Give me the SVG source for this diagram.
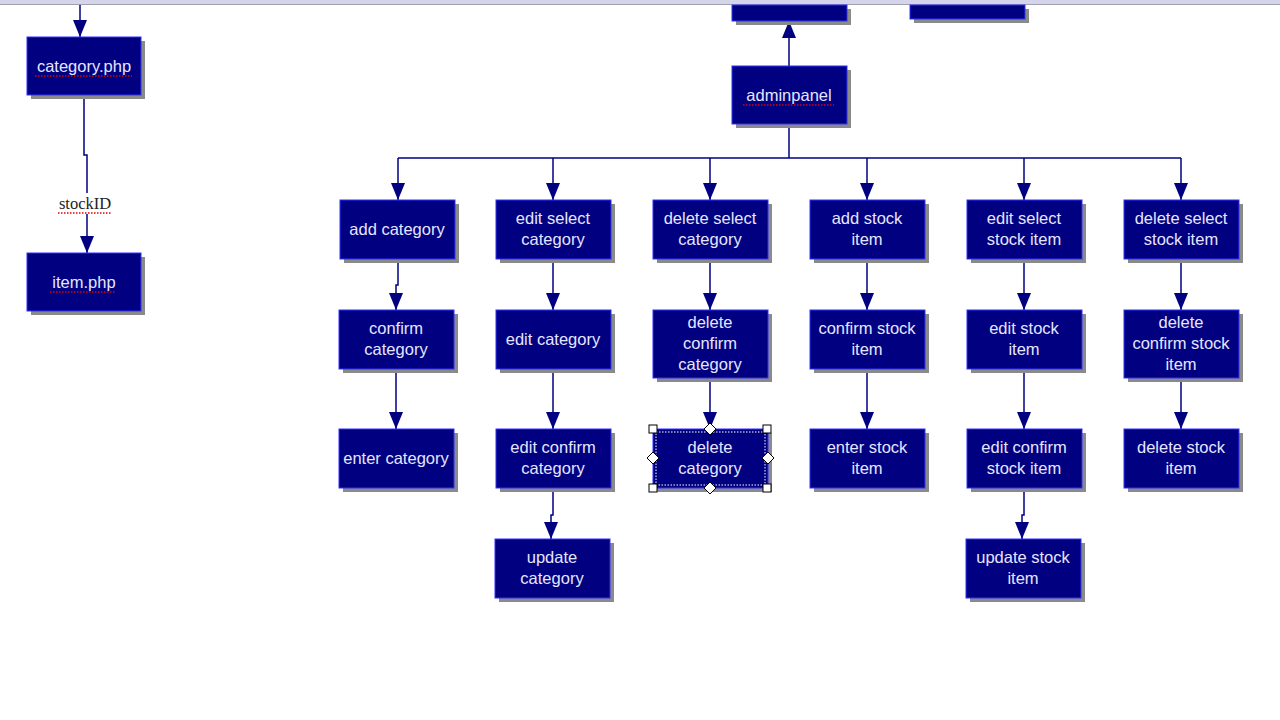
<svg xmlns="http://www.w3.org/2000/svg" width="1280" height="720" viewBox="0 0 1280 720">
<defs>
<style>
.sh{fill:#8a8a8a}
.bx{fill:#000080;stroke:#3030ff;stroke-width:1}
.t{font-family:"Liberation Sans",Arial,sans-serif;font-size:16.5px;fill:#e6e6ff;text-anchor:middle}
.c{fill:none;stroke:#000080;stroke-width:1.5}
.sp{stroke:#e00000;stroke-width:1.5;stroke-dasharray:1.5 1.5}
.h{fill:#fff;stroke:#000;stroke-width:1}
</style>
<marker id="ar" viewBox="0 0 17 14" refX="17" refY="7" markerWidth="17" markerHeight="14" markerUnits="userSpaceOnUse" orient="auto">
<path d="M0,0 L17,7 L0,14 Z" fill="#000080"/>
</marker>
</defs>
<rect x="0" y="0" width="1280" height="720" fill="#ffffff"/>
<rect x="0" y="0" width="1280" height="4" fill="#d4d4ea"/>
<rect x="0" y="4" width="1280" height="1" fill="#a0a0b0"/>

<g id="connectors">
<path class="c" d="M80,5 V37" marker-end="url(#ar)"/>
<path class="c" d="M84,95 V155 H87 V193"/>
<path class="c" d="M87,214 V253" marker-end="url(#ar)"/>
<path class="c" d="M789,66 V21" marker-end="url(#ar)"/>
<path class="c" d="M789,124 V158"/>
<path class="c" d="M398,158 H1181"/>
<path class="c" d="M398,158 V200" marker-end="url(#ar)"/>
<path class="c" d="M553,158 V200" marker-end="url(#ar)"/>
<path class="c" d="M710,158 V200" marker-end="url(#ar)"/>
<path class="c" d="M867,158 V200" marker-end="url(#ar)"/>
<path class="c" d="M1024,158 V200" marker-end="url(#ar)"/>
<path class="c" d="M1181,158 V200" marker-end="url(#ar)"/>
<path class="c" d="M398,259 V285 H396 V310" marker-end="url(#ar)"/>
<path class="c" d="M553,259 V310" marker-end="url(#ar)"/>
<path class="c" d="M710,259 V310" marker-end="url(#ar)"/>
<path class="c" d="M867,259 V310" marker-end="url(#ar)"/>
<path class="c" d="M1024,259 V310" marker-end="url(#ar)"/>
<path class="c" d="M1181,259 V310" marker-end="url(#ar)"/>
<path class="c" d="M396,369 V429" marker-end="url(#ar)"/>
<path class="c" d="M553,369 V429" marker-end="url(#ar)"/>
<path class="c" d="M710,378 V429" marker-end="url(#ar)"/>
<path class="c" d="M867,369 V429" marker-end="url(#ar)"/>
<path class="c" d="M1024,369 V429" marker-end="url(#ar)"/>
<path class="c" d="M1181,378 V429" marker-end="url(#ar)"/>
<path class="c" d="M553,488 V515 H551 V539" marker-end="url(#ar)"/>
<path class="c" d="M1024,488 V515 H1022 V539" marker-end="url(#ar)"/>
</g>

<g id="label-stockID">
<text x="85" y="209" font-family="'Liberation Serif','Times New Roman',serif" font-size="16.5" fill="#222" text-anchor="middle">stockID</text>
<line class="sp" x1="58" y1="213" x2="112" y2="213"/>
</g>

<g id="n-top1"><rect class="sh" x="736" y="9" width="115" height="16"/><rect class="bx" x="732" y="5" width="115" height="16"/></g>
<g id="n-top2"><rect class="sh" x="914" y="9" width="115" height="14"/><rect class="bx" x="910" y="5" width="115" height="14"/></g>

<g id="n-category-php"><rect class="sh" x="31" y="41" width="114" height="58"/><rect class="bx" x="27" y="37" width="114" height="58"/><text class="t" x="84" y="72">category.php</text><line class="sp" x1="35" y1="76" x2="132" y2="76"/></g>
<g id="n-item-php"><rect class="sh" x="31" y="257" width="114" height="58"/><rect class="bx" x="27" y="253" width="114" height="58"/><text class="t" x="84" y="288">item.php</text><line class="sp" x1="50" y1="292" x2="115" y2="292"/></g>
<g id="n-adminpanel"><rect class="sh" x="736" y="70" width="115" height="58"/><rect class="bx" x="732" y="66" width="115" height="58"/><text class="t" x="789" y="101">adminpanel</text><line class="sp" x1="743" y1="105" x2="834" y2="105"/></g>

<g id="n-add-category"><rect class="sh" x="344" y="204" width="115" height="59"/><rect class="bx" x="340" y="200" width="115" height="59"/><text class="t" x="397" y="235">add category</text></g>
<g id="n-edit-select-category"><rect class="sh" x="500" y="204" width="115" height="59"/><rect class="bx" x="496" y="200" width="115" height="59"/><text class="t" x="553" y="224">edit select</text><text class="t" x="553" y="245">category</text></g>
<g id="n-delete-select-category"><rect class="sh" x="657" y="204" width="115" height="59"/><rect class="bx" x="653" y="200" width="115" height="59"/><text class="t" x="710" y="224">delete select</text><text class="t" x="710" y="245">category</text></g>
<g id="n-add-stock-item"><rect class="sh" x="814" y="204" width="115" height="59"/><rect class="bx" x="810" y="200" width="115" height="59"/><text class="t" x="867" y="224">add stock</text><text class="t" x="867" y="245">item</text></g>
<g id="n-edit-select-stock-item"><rect class="sh" x="971" y="204" width="115" height="59"/><rect class="bx" x="967" y="200" width="115" height="59"/><text class="t" x="1024" y="224">edit select</text><text class="t" x="1024" y="245">stock item</text></g>
<g id="n-delete-select-stock-item"><rect class="sh" x="1128" y="204" width="115" height="59"/><rect class="bx" x="1124" y="200" width="115" height="59"/><text class="t" x="1181" y="224">delete select</text><text class="t" x="1181" y="245">stock item</text></g>

<g id="n-confirm-category"><rect class="sh" x="343" y="314" width="115" height="59"/><rect class="bx" x="339" y="310" width="115" height="59"/><text class="t" x="396" y="334">confirm</text><text class="t" x="396" y="355">category</text></g>
<g id="n-edit-category"><rect class="sh" x="500" y="314" width="115" height="59"/><rect class="bx" x="496" y="310" width="115" height="59"/><text class="t" x="553" y="345">edit category</text></g>
<g id="n-delete-confirm-category"><rect class="sh" x="657" y="314" width="115" height="68"/><rect class="bx" x="653" y="310" width="115" height="68"/><text class="t" x="710" y="328">delete</text><text class="t" x="710" y="349">confirm</text><text class="t" x="710" y="370">category</text></g>
<g id="n-confirm-stock-item"><rect class="sh" x="814" y="314" width="115" height="59"/><rect class="bx" x="810" y="310" width="115" height="59"/><text class="t" x="867" y="334">confirm stock</text><text class="t" x="867" y="355">item</text></g>
<g id="n-edit-stock-item"><rect class="sh" x="971" y="314" width="115" height="59"/><rect class="bx" x="967" y="310" width="115" height="59"/><text class="t" x="1024" y="334">edit stock</text><text class="t" x="1024" y="355">item</text></g>
<g id="n-delete-confirm-stock-item"><rect class="sh" x="1128" y="314" width="115" height="68"/><rect class="bx" x="1124" y="310" width="115" height="68"/><text class="t" x="1181" y="328">delete</text><text class="t" x="1181" y="349">confirm stock</text><text class="t" x="1181" y="370">item</text></g>

<g id="n-enter-category"><rect class="sh" x="343" y="433" width="115" height="59"/><rect class="bx" x="339" y="429" width="115" height="59"/><text class="t" x="396" y="464">enter category</text></g>
<g id="n-edit-confirm-category"><rect class="sh" x="500" y="433" width="115" height="59"/><rect class="bx" x="496" y="429" width="115" height="59"/><text class="t" x="553" y="453">edit confirm</text><text class="t" x="553" y="474">category</text></g>
<g id="n-delete-category"><rect class="sh" x="657" y="433" width="115" height="59"/><rect class="bx" x="653" y="429" width="115" height="59"/><rect x="656" y="432" width="109" height="53" fill="none" stroke="#fff" stroke-width="1" stroke-dasharray="1.5 1.5"/><text class="t" x="710" y="453">delete</text><text class="t" x="710" y="474">category</text>
<rect class="h" x="649" y="425" width="8" height="8"/><rect class="h" x="763" y="425" width="8" height="8"/><rect class="h" x="649" y="484" width="8" height="8"/><rect class="h" x="763" y="484" width="8" height="8"/>
<path class="h" d="M710,423 L716,429 L710,435 L704,429 Z"/><path class="h" d="M710,482 L716,488 L710,494 L704,488 Z"/><path class="h" d="M653,452 L659,458 L653,464 L647,458 Z"/><path class="h" d="M768,452 L774,458 L768,464 L762,458 Z"/></g>
<g id="n-enter-stock-item"><rect class="sh" x="814" y="433" width="115" height="59"/><rect class="bx" x="810" y="429" width="115" height="59"/><text class="t" x="867" y="453">enter stock</text><text class="t" x="867" y="474">item</text></g>
<g id="n-edit-confirm-stock-item"><rect class="sh" x="971" y="433" width="115" height="59"/><rect class="bx" x="967" y="429" width="115" height="59"/><text class="t" x="1024" y="453">edit confirm</text><text class="t" x="1024" y="474">stock item</text></g>
<g id="n-delete-stock-item"><rect class="sh" x="1128" y="433" width="115" height="59"/><rect class="bx" x="1124" y="429" width="115" height="59"/><text class="t" x="1181" y="453">delete stock</text><text class="t" x="1181" y="474">item</text></g>

<g id="n-update-category"><rect class="sh" x="499" y="543" width="115" height="59"/><rect class="bx" x="495" y="539" width="115" height="59"/><text class="t" x="552" y="563">update</text><text class="t" x="552" y="584">category</text></g>
<g id="n-update-stock-item"><rect class="sh" x="970" y="543" width="115" height="59"/><rect class="bx" x="966" y="539" width="115" height="59"/><text class="t" x="1023" y="563">update stock</text><text class="t" x="1023" y="584">item</text></g>
</svg>
